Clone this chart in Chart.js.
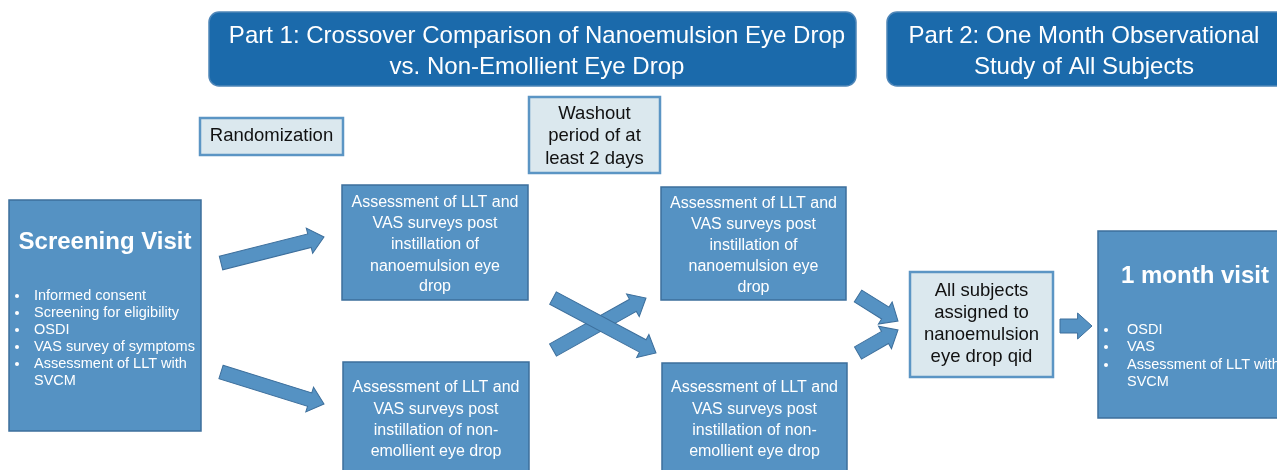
<!DOCTYPE html>
<html>
<head>
<meta charset="utf-8">
<script src="https://cdn.jsdelivr.net/npm/chart.js@4"></script>
<style>
  html, body { margin: 0; padding: 0; background: #fff; }
  #wrap { width: 1277px; height: 470px; }
</style>
</head>
<body>
<div id="wrap"><canvas id="flow"></canvas></div>
<script>
// Node texts
const headerTexts = [
  ["Part 1: Crossover Comparison of Nanoemulsion Eye Drop", "vs. Non-Emollient Eye Drop"],
  ["Part 2: One Month Observational", "Study of All Subjects"]
];
const noteTexts = [
  ["Randomization"],
  ["Washout", "period of at", "least 2 days"],
  ["All subjects", "assigned to", "nanoemulsion", "eye drop qid"]
];
const stepTexts = [
  ["Assessment of LLT and", "VAS surveys post", "instillation of", "nanoemulsion eye", "drop"],
  ["Assessment of LLT and", "VAS surveys post", "instillation of non-", "emollient eye drop"],
  ["Assessment of LLT and", "VAS surveys post", "instillation of", "nanoemulsion eye", "drop"],
  ["Assessment of LLT and", "VAS surveys post", "instillation of non-", "emollient eye drop"]
];
const visitTitles = ["Screening Visit", "1 month visit"];
const visitBullets = [
  ["Informed consent", "Screening for eligibility", "OSDI", "VAS survey of symptoms", "Assessment of LLT with", "SVCM"],
  ["OSDI", "VAS", "Assessment of LLT with", "SVCM"]
];

// Layout in diagram units [x0, y0, x1, y1]
const headerBoxes = [[209, 12, 856, 86], [887, 12, 1290, 86]];
const headerTextX = [537, 1084];
const noteBoxes = [[200, 118, 343, 155], [529, 97, 660, 173], [910, 272, 1053, 377]];
const noteLineY = [[136], [114, 136, 159], [291, 313, 335, 357]];
const stepBoxes = [[342, 185, 528, 300], [343, 362, 529, 480], [661, 187, 846, 300], [662, 363, 847, 480]];
const stepLineY = [[203, 224, 245, 267, 287], [388, 410, 431, 452], [204, 225, 246, 267, 288], [388, 410, 431, 452]];
const visitBoxes = [[9, 200, 201, 431], [1098, 231, 1290, 418]];
const visitTitlePos = [[105, 242], [1195, 276]];
const visitBulletY = [[296, 313, 330, 347, 364, 381], [330, 347, 365, 382]];
const visitBulletX = [[16, 34], [1105, 1127]];
// Arrows: [xFrom, yFrom, xTo, yTo]
const arrows = [
  [221, 263, 324, 237],
  [221, 372, 324, 404],
  [553, 350, 646, 298],
  [553, 298, 656, 353],
  [858, 296, 898, 321],
  [858, 353, 898, 330],
  [1060, 326, 1092, 326]
];

const FONT = '"Liberation Sans", Arial, Helvetica, sans-serif';
const DARK = '#1b6aab';
const MID = '#5592c3';
const MID_EDGE = '#3d6f9c';
const LIGHT = '#dbe8ee';
const LIGHT_EDGE = '#5b95c4';

const flowPlugin = {
  id: 'flow',
  afterDraw(chart) {
    const { ctx, scales: { x, y } } = chart;
    const px = v => x.getPixelForValue(v);
    const py = v => y.getPixelForValue(v);

    const rect = (b, fill, edge, lw, radius) => {
      const x0 = px(b[0]), y0 = py(b[1]), x1 = px(b[2]), y1 = py(b[3]);
      ctx.beginPath();
      if (radius) ctx.roundRect(x0, y0, x1 - x0, y1 - y0, radius);
      else ctx.rect(x0, y0, x1 - x0, y1 - y0);
      ctx.fillStyle = fill;
      ctx.fill();
      ctx.lineWidth = lw;
      ctx.strokeStyle = edge;
      ctx.stroke();
    };
    const centeredLines = (lines, cx, ys, color, font) => {
      ctx.fillStyle = color;
      ctx.font = font;
      ctx.textAlign = 'center';
      ctx.textBaseline = 'middle';
      lines.forEach((t, i) => ctx.fillText(t, px(cx), py(ys[i])));
    };

    ctx.save();

    // headers
    headerBoxes.forEach((b, i) => {
      rect(b, DARK, '#4f86b8', 1.5, 10);
      centeredLines(headerTexts[i], headerTextX[i], [36, 67], '#ffffff', '24px ' + FONT);
    });

    // light notes
    noteBoxes.forEach((b, i) => {
      rect(b, LIGHT, LIGHT_EDGE, 2.5, 0);
      centeredLines(noteTexts[i], (b[0] + b[2]) / 2, noteLineY[i], '#111111', '18.5px ' + FONT);
    });

    // assessment steps
    stepBoxes.forEach((b, i) => {
      rect(b, MID, MID_EDGE, 1.5, 0);
      centeredLines(stepTexts[i], (b[0] + b[2]) / 2, stepLineY[i], '#ffffff', '16px ' + FONT);
    });

    // visits
    visitBoxes.forEach((b, i) => {
      rect(b, MID, MID_EDGE, 1.5, 0);
      centeredLines([visitTitles[i]], visitTitlePos[i][0], [visitTitlePos[i][1]], '#ffffff', 'bold 24px ' + FONT);
      ctx.font = '14.5px ' + FONT;
      ctx.textAlign = 'left';
      visitBullets[i].forEach((t, k) => {
        const yy = py(visitBulletY[i][k]);
        const isCont = i === 0 ? k === 5 : k === 3;
        if (!isCont) {
          ctx.beginPath();
          ctx.arc(px(visitBulletX[i][0]) + 1, yy, 2, 0, Math.PI * 2);
          ctx.fill();
        }
        ctx.fillText(t, px(visitBulletX[i][1]), yy);
      });
    });

    // block arrows
    arrows.forEach(a => {
      const x0 = px(a[0]), y0 = py(a[1]), x1 = px(a[2]), y1 = py(a[3]);
      const len = Math.hypot(x1 - x0, y1 - y0);
      const ang = Math.atan2(y1 - y0, x1 - x0);
      const sw = 7, hw = 13, hl = Math.min(15, len * 0.45);
      ctx.save();
      ctx.translate(x0, y0);
      ctx.rotate(ang);
      ctx.beginPath();
      ctx.moveTo(0, -sw);
      ctx.lineTo(len - hl, -sw);
      ctx.lineTo(len - hl, -hw);
      ctx.lineTo(len, 0);
      ctx.lineTo(len - hl, hw);
      ctx.lineTo(len - hl, sw);
      ctx.lineTo(0, sw);
      ctx.closePath();
      ctx.fillStyle = MID;
      ctx.fill();
      ctx.lineWidth = 1;
      ctx.strokeStyle = MID_EDGE;
      ctx.stroke();
      ctx.restore();
    });

    ctx.restore();
  }
};

new Chart(document.getElementById('flow'), {
  type: 'scatter',
  data: { datasets: [{ data: [], pointRadius: 0 }] },
  options: {
    responsive: true,
    maintainAspectRatio: false,
    animation: false,
    events: [],
    layout: { padding: 0 },
    plugins: { legend: { display: false }, tooltip: { enabled: false } },
    scales: {
      x: { type: 'linear', min: 0, max: 1277, display: false },
      y: { type: 'linear', min: 0, max: 470, reverse: true, display: false }
    }
  },
  plugins: [flowPlugin]
});
</script>
</body>
</html>
